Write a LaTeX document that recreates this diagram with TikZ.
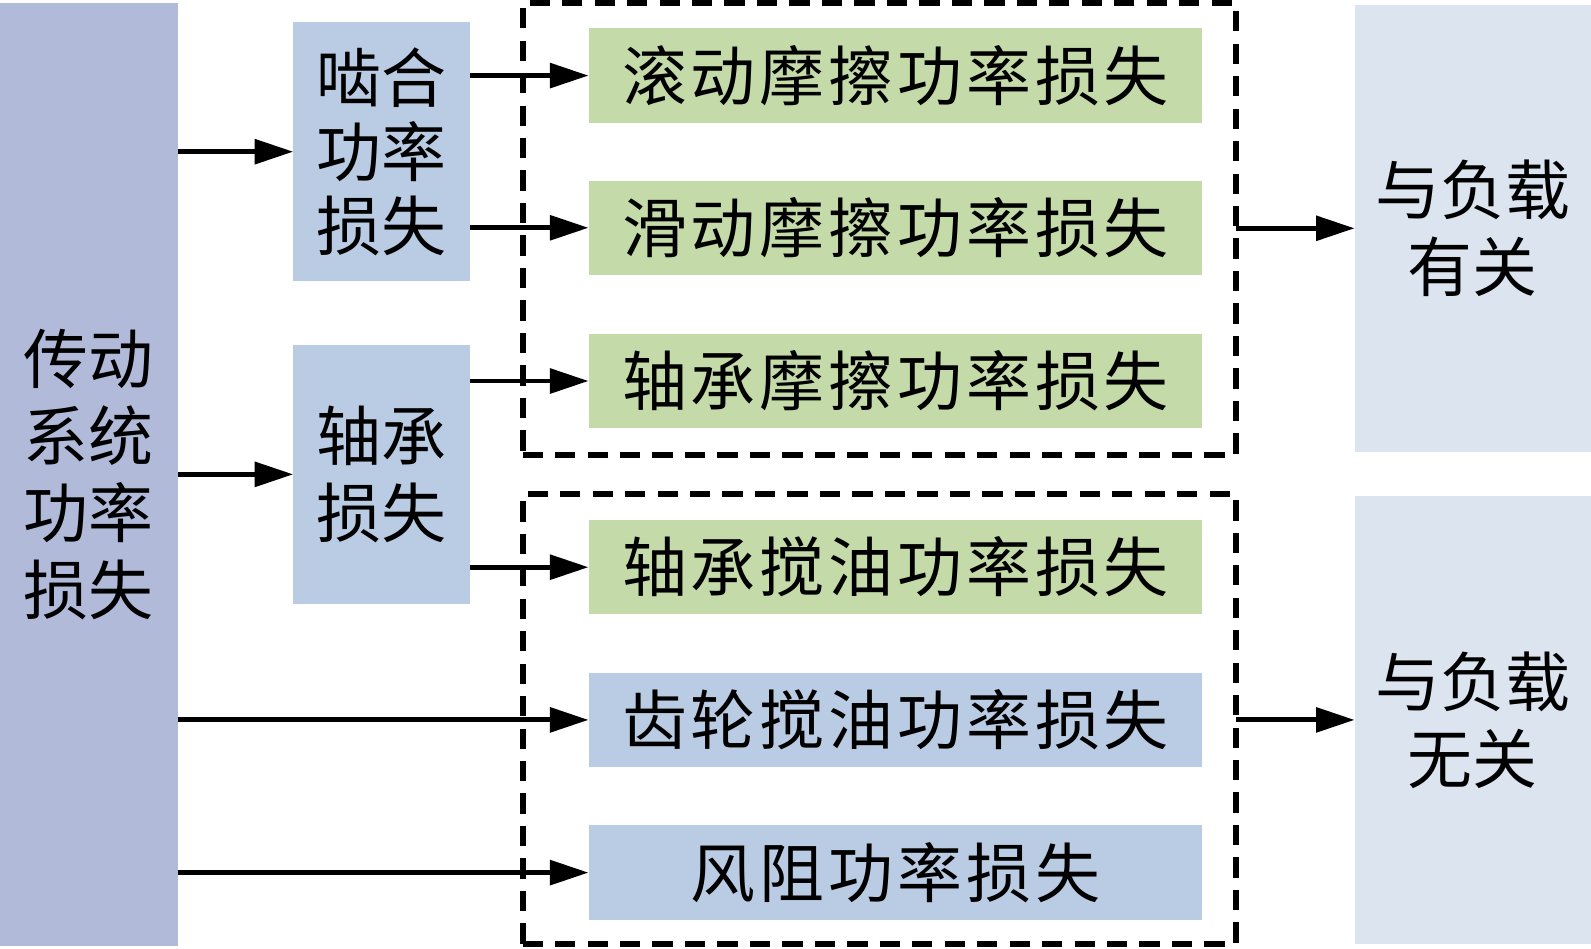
\documentclass[tikz,border=0pt]{standalone}
\usepackage{fontspec}
\newfontfamily\cjk{Noto Sans CJK SC}
\newfontfamily\cjkls[LetterSpace=6]{Noto Sans CJK SC}
\usetikzlibrary{arrows.meta}
\definecolor{lav}{HTML}{B1BAD9}
\definecolor{midblue}{HTML}{BACCE3}
\definecolor{grn}{HTML}{C4DBA9}
\definecolor{pale}{HTML}{DBE4EF}
\tikzset{
  base/.style={inner sep=0pt, outer sep=0pt, align=center, text=black},
  tall/.style={base, font=\cjk\fontsize{32pt}{38pt}\selectfont},
  wide/.style={base, minimum width=302.5pt, minimum height=46.5pt, font=\cjkls\fontsize{32pt}{38pt}\selectfont},
  dbox/.style={draw=black, line width=2.9pt, dash pattern=on 10pt off 6pt, inner sep=0pt, outer sep=0pt, minimum width=351.5pt},
  arr/.style={draw=black, line width=2.4pt, -{Triangle[length=19pt,width=12pt]}}
}
\begin{document}
\begin{tikzpicture}[x=0.5pt,y=-0.5pt]
\useasboundingbox (0,0) rectangle (1568,935);
% dashed groups
\node[dbox, minimum height=222.5pt] (D1) at (866.5,225.5) {};
\node[dbox, minimum height=221.5pt] (D2) at (866.5,708.5) {};
% left
\node[tall, fill=lav, minimum width=87.5pt, minimum height=464.5pt] (L) at (87.5,467.5) {传动\\系统\\功率\\损失};
% middle
\node[tall, fill=midblue, minimum width=87pt, minimum height=127.5pt, font=\cjk\fontsize{32pt}{36.5pt}\selectfont] (M) at (376,149.5) {啮合\\功率\\损失};
\node[tall, fill=midblue, minimum width=87pt, minimum height=127.5pt] (B) at (376,467.5) {轴承\\损失};
% right column
\node[wide, fill=grn] (g1) at (882.5,74.5) {滚动摩擦功率损失};
\node[wide, fill=grn] (g2) at (882.5,224.5) {滑动摩擦功率损失};
\node[wide, fill=grn] (g3) at (882.5,375.5) {轴承摩擦功率损失};
\node[wide, fill=grn] (g4) at (882.5,559) {轴承搅油功率损失};
\node[wide, fill=midblue] (g5) at (882.5,709.5) {齿轮搅油功率损失};
\node[wide, fill=midblue] (g6) at (882.5,860) {风阻功率损失};
% far right
\node[tall, fill=pale, minimum width=116.5pt, minimum height=220pt] (R1) at (1451.5,225) {与负载\\有关};
\node[tall, fill=pale, minimum width=116.5pt, minimum height=220.5pt] (R2) at (1451.5,709.5) {与负载\\无关};
% arrows
\draw[arr] (L.east |- M.west) -- (M.west);
\draw[arr] (L.east |- B.west) -- (B.west);
\draw[arr] (M.east |- g1.west) -- (g1.west);
\draw[arr] (M.east |- g2.west) -- (g2.west);
\draw[arr] (B.east |- g3.west) -- (g3.west);
\draw[arr] (B.east |- g4.west) -- (g4.west);
\draw[arr] (L.east |- g5.west) -- (g5.west);
\draw[arr] (L.east |- g6.west) -- (g6.west);
\draw[arr] (D1.east |- R1.west) -- (R1.west);
\draw[arr] (D2.east |- R2.west) -- (R2.west);
\end{tikzpicture}
\end{document}
